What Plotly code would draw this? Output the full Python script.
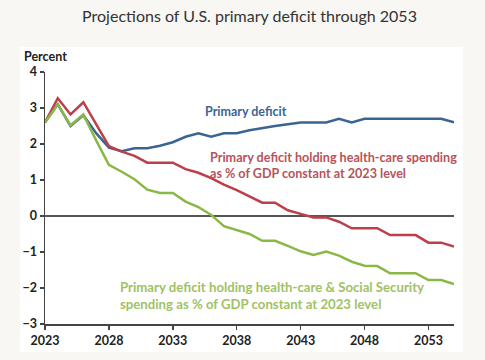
import plotly.graph_objects as go

years = list(range(2023, 2056))

primary_deficit = [2.6, 3.1, 2.5, 2.8, 2.3, 1.9, 1.8, 1.88, 1.88, 1.95, 2.05, 2.2, 2.3, 2.2, 2.3,
                   2.3, 2.38, 2.45, 2.5, 2.55, 2.6, 2.6, 2.6, 2.7, 2.6, 2.7, 2.7, 2.7, 2.7, 2.7,
                   2.7, 2.7, 2.6]
health_const = [2.6, 3.27, 2.82, 3.16, 2.55, 1.94, 1.79, 1.67, 1.48, 1.48, 1.48, 1.3, 1.2, 1.05,
                0.87, 0.72, 0.55, 0.37, 0.37, 0.16, 0.06, -0.04, -0.04, -0.16, -0.34, -0.34,
                -0.34, -0.53, -0.53, -0.53, -0.74, -0.74, -0.85]
health_ss_const = [2.6, 3.1, 2.52, 2.82, 2.1, 1.42, 1.23, 1.02, 0.73, 0.64, 0.64, 0.4, 0.25, 0.03,
                   -0.28, -0.38, -0.5, -0.69, -0.69, -0.83, -0.98, -1.08, -0.99, -1.1, -1.27,
                   -1.38, -1.39, -1.59, -1.59, -1.59, -1.78, -1.78, -1.89]

x_ticks = [2023, 2028, 2033, 2038, 2043, 2048, 2053]
y_ticks = [-3, -2, -1, 0, 1, 2, 3, 4]

BLUE = "#3a6592"
RED = "#bc3f49"
GREEN = "#8ab846"
PAGE_BG = "#f8f7f3"
FONT = "Lato"

fig = go.Figure()
fig.add_trace(go.Scatter(x=years, y=primary_deficit, mode="lines",
                         line=dict(color=BLUE, width=2.5), hoverinfo="skip"))
fig.add_trace(go.Scatter(x=years, y=health_const, mode="lines",
                         line=dict(color=RED, width=2.5), hoverinfo="skip"))
fig.add_trace(go.Scatter(x=years, y=health_ss_const, mode="lines",
                         line=dict(color=GREEN, width=2.5), hoverinfo="skip"))

fig.update_layout(
    template="none",
    width=485, height=360,
    margin=dict(l=45, r=31, t=72, b=36, autoexpand=False),
    paper_bgcolor=PAGE_BG,
    plot_bgcolor="white",
    showlegend=False,
    font=dict(family=FONT, color="#222"),
    title=dict(text="Projections of U.S. primary deficit through 2053",
               x=0.5, xref="paper", xanchor="center", y=0.955, yanchor="middle",
               font=dict(size=16, color="#333", family=FONT)),
    xaxis=dict(range=[2023, 2055], tickvals=x_ticks, ticktext=[str(t) for t in x_ticks],
               automargin=False,
               showgrid=False, zeroline=False, showline=True, linecolor="#444", linewidth=1.5,
               ticks="outside", ticklen=4, tickcolor="#444", tickwidth=1.5,
               tickfont=dict(size=12.5, color="#222", family=FONT, weight=700)),
    yaxis=dict(range=[-3, 4], tickvals=y_ticks, showgrid=False, automargin=False,
               zeroline=True, zerolinecolor="#555", zerolinewidth=1.5,
               showline=True, linecolor="#444", linewidth=1.5,
               ticks="outside", ticklen=4, tickcolor="#444", tickwidth=1.5,
               tickfont=dict(size=12.5, color="#222", family=FONT, weight=700)),
    shapes=[dict(type="rect", xref="paper", yref="paper", x0=-0.061, x1=1.022,
                 y0=-0.111, y1=1.099, fillcolor="white", line=dict(width=0), layer="below")],
)

fig.add_annotation(text="Percent", xref="paper", yref="paper", x=-0.056, y=1.06,
                   xanchor="left", yanchor="middle", showarrow=False,
                   font=dict(size=12.5, color="#222", family=FONT, weight=700))
fig.add_annotation(text="Primary deficit", x=2035.4, y=2.89, xanchor="left", yanchor="middle",
                   showarrow=False, font=dict(size=12.5, color=BLUE, family=FONT, weight=700))
fig.add_annotation(text="Primary deficit holding health-care spending<br>as % of GDP constant at 2023 level",
                   x=2035.75, y=1.40, xanchor="left", yanchor="middle", align="left",
                   showarrow=False, font=dict(size=12.6, color="#b8525a", family=FONT, weight=700))
fig.add_annotation(text="Primary deficit holding health-care & Social Security<br>spending as % of GDP constant at 2023 level",
                   x=2028.7, y=-2.21, xanchor="left", yanchor="middle", align="left",
                   showarrow=False, font=dict(size=13.2, color="#a0c264", family=FONT, weight=700))

fig.write_html(
    "out.html",
    config={"displayModeBar": False, "staticPlot": True},
    post_script=("document.body.style.margin='0';"
                 "document.body.style.background='" + PAGE_BG + "';"
                 "document.body.style.overflow='hidden';"),
)
